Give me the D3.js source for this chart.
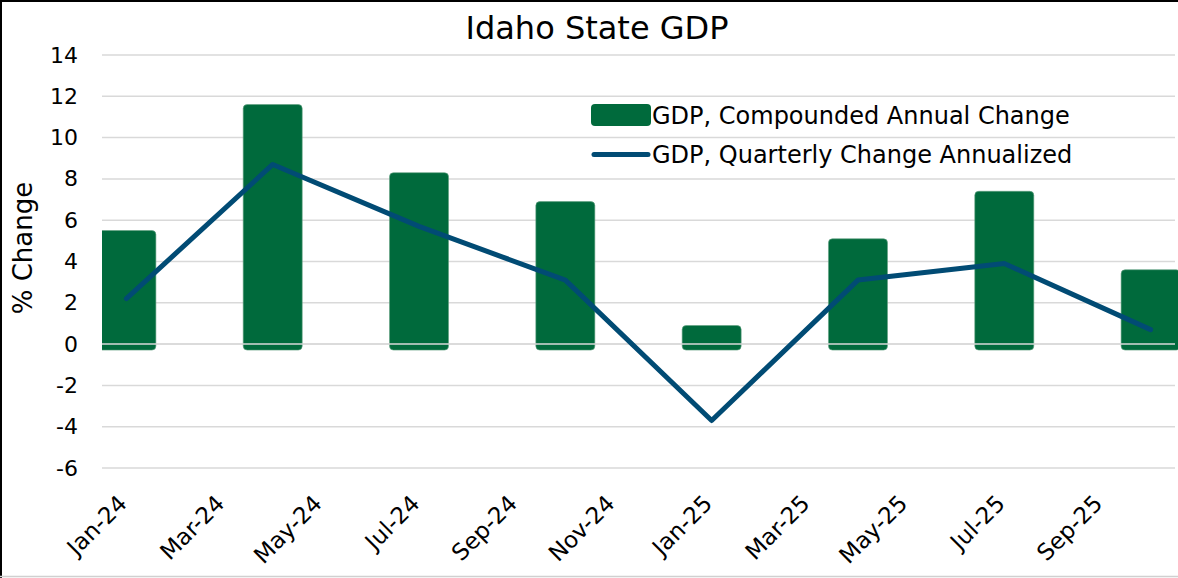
<!DOCTYPE html>
<html>
<head>
<meta charset="utf-8">
<title>Idaho State GDP</title>
<script src="https://cdn.jsdelivr.net/npm/d3@7"></script>
<style>
  body { margin: 0; background: #fff; }
  svg { display: block; font-family: "DejaVu Sans", Verdana, sans-serif; }
  .grid line { stroke: #d9d9d9; stroke-width: 1.5px; }
</style>
</head>
<body>
<svg id="chart" width="1178" height="578"></svg>
<script>
// data (quarterly, % change)
var months = ["Jan-24","Feb-24","Mar-24","Apr-24","May-24","Jun-24","Jul-24","Aug-24","Sep-24","Oct-24","Nov-24","Dec-24",
              "Jan-25","Feb-25","Mar-25","Apr-25","May-25","Jun-25","Jul-25","Aug-25","Sep-25","Oct-25"];
var quarters = ["Jan-24","Apr-24","Jul-24","Oct-24","Jan-25","Apr-25","Jul-25","Oct-25"];
var compounded = [5.5, 11.6, 8.3, 6.9, 0.9, 5.1, 7.4, 3.6];
var quarterlyAnn = [2.2, 8.7, 5.7, 3.1, -3.7, 3.1, 3.9, 0.7];
var tickLabels = ["Jan-24","Mar-24","May-24","Jul-24","Sep-24","Nov-24","Jan-25","Mar-25","May-25","Jul-25","Sep-25"];
var yTicks = [-6, -4, -2, 0, 2, 4, 6, 8, 10, 12, 14];

var green = "#006a3c", blue = "#014b74";

var svg = d3.select("#chart"),
    W = +svg.attr("width"),
    H = +svg.attr("height");

var plotL = 102, plotR = 1175, plotT = 55, plotB = 468;

var x = d3.scaleBand().domain(months).range([plotL, plotR]);
var y = d3.scaleLinear().domain([-6, 14]).range([plotB, plotT]);
var cx = function (m) { return x(m) + x.bandwidth() / 2; };

// frame
svg.append("line").attr("x1", 0).attr("x2", W).attr("y1", 1).attr("y2", 1).attr("stroke", "#000").attr("stroke-width", 2);
svg.append("line").attr("x1", 1).attr("x2", 1).attr("y1", 0).attr("y2", H).attr("stroke", "#000").attr("stroke-width", 2);
svg.append("line").attr("x1", 0).attr("x2", W).attr("y1", H - 1.5).attr("y2", H - 1.5).attr("stroke", "#d0d0d0").attr("stroke-width", 1.5);

// title
svg.append("text").attr("x", 597).attr("y", 39).attr("text-anchor", "middle")
   .style("font-size", "32px").attr("fill", "#000").text("Idaho State GDP");

// gridlines
svg.append("g").attr("class", "grid").selectAll("line").data(yTicks).enter().append("line")
   .attr("x1", plotL).attr("x2", plotR)
   .attr("y1", function (d) { return y(d); }).attr("y2", function (d) { return y(d); });

// y axis labels (plain hyphen for negatives, as in the original)
var yAxis = d3.axisLeft(y).tickValues(yTicks).tickSize(0).tickPadding(0)
   .tickFormat(function (d) { return String(d); });
svg.append("g").attr("transform", "translate(78,0)").call(yAxis)
   .call(function (g) { g.select(".domain").remove(); })
   .selectAll("text").style("font-size", "22px").attr("fill", "#000")
   .attr("font-family", "DejaVu Sans, Verdana, sans-serif");

svg.append("text").attr("transform", "translate(32,248) rotate(-90)").attr("text-anchor", "middle")
   .style("font-size", "26px").attr("fill", "#000").text("% Change");

// x axis labels
var xAxis = d3.axisBottom(x).tickValues(tickLabels).tickSize(0).tickPadding(0);
svg.append("g").attr("transform", "translate(0,478)").call(xAxis)
   .call(function (g) { g.select(".domain").remove(); })
   .selectAll("text").style("font-size", "23px").attr("fill", "#000")
   .attr("font-family", "DejaVu Sans, Verdana, sans-serif")
   .attr("text-anchor", "end").attr("y", 0).attr("dy", 0)
   .attr("transform", "translate(2,27) rotate(-45)");

// bars, clipped at the plot's left edge
svg.append("clipPath").attr("id", "clip").append("rect")
   .attr("x", plotL).attr("y", 0).attr("width", W - plotL).attr("height", H);

var barW = 59;
svg.append("g").attr("clip-path", "url(#clip)").selectAll("rect").data(quarters).enter().append("rect")
   .attr("x", function (d) { return cx(d) - barW / 2; })
   .attr("y", function (d, i) { return y(compounded[i]); })
   .attr("width", barW)
   .attr("height", function (d, i) { return y(0) - y(compounded[i]) + 6; })
   .attr("rx", 4)
   .attr("fill", green)
   .attr("stroke", "#5f9f7f").attr("stroke-width", 0.6);

// zero line on top of the bars
svg.append("line").attr("x1", plotL).attr("x2", plotR).attr("y1", y(0)).attr("y2", y(0))
   .attr("stroke", "#d9d9d9").attr("stroke-width", 1.5);

// line series
var line = d3.line()
   .x(function (d) { return cx(d); })
   .y(function (d, i) { return y(quarterlyAnn[i]); });
svg.append("path").datum(quarters).attr("d", line)
   .attr("fill", "none").attr("stroke", blue).attr("stroke-width", 5)
   .attr("stroke-linecap", "round").attr("stroke-linejoin", "round");

// legend
var lg = svg.append("g");
lg.append("rect").attr("x", 591).attr("y", 104).attr("width", 60).attr("height", 22).attr("rx", 4).attr("fill", green);
lg.append("text").attr("x", 652).attr("y", 116).attr("dy", "0.35em").style("font-size", "24px").text("GDP, Compounded Annual Change");
lg.append("line").attr("x1", 594).attr("x2", 648).attr("y1", 154.5).attr("y2", 154.5)
  .attr("stroke", blue).attr("stroke-width", 5).attr("stroke-linecap", "round");
lg.append("text").attr("x", 652).attr("y", 155).attr("dy", "0.35em").style("font-size", "24px").text("GDP, Quarterly Change Annualized");
</script>
</body>
</html>
